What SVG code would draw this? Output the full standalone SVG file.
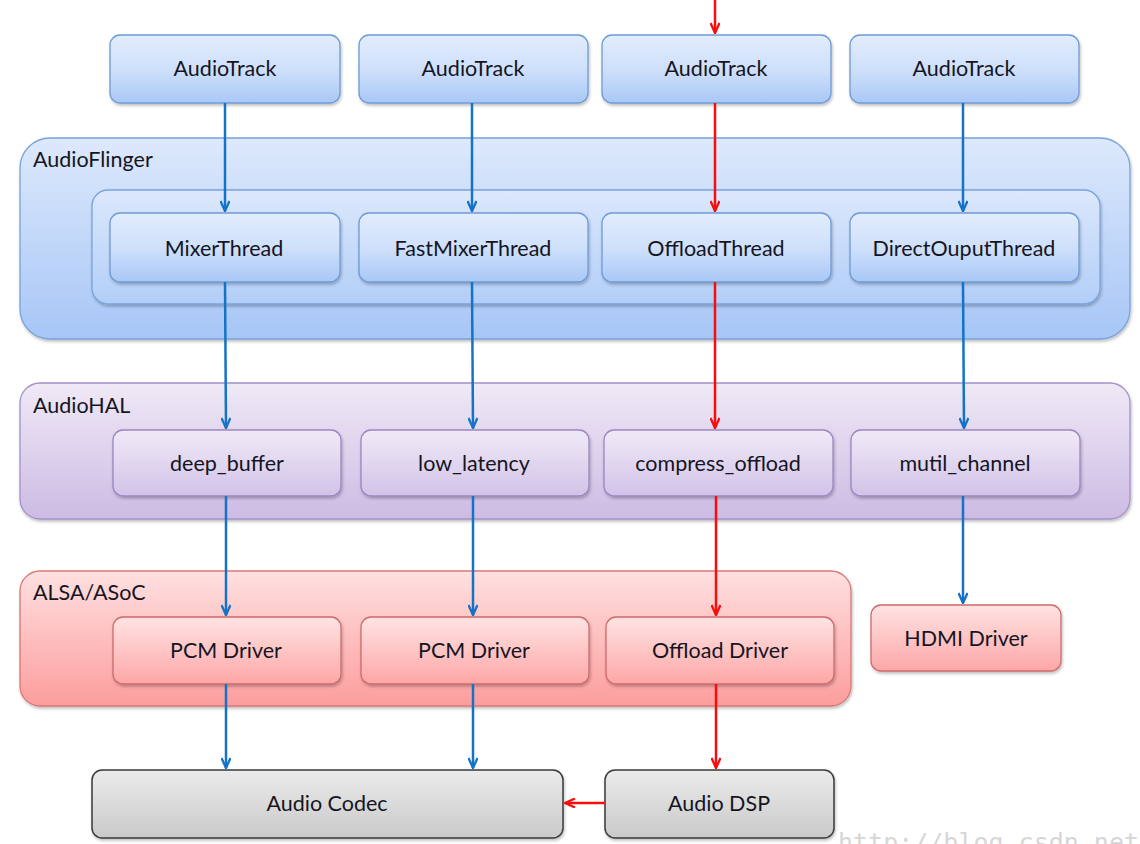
<svg xmlns="http://www.w3.org/2000/svg" width="1140" height="844" viewBox="0 0 1140 844">
<style>
text{font-family:Lato,"Open Sans","Liberation Sans",sans-serif;font-size:21.5px;fill:#15151f;}
.c{text-anchor:middle;}
.blue{fill:url(#gBlue);stroke:#6e9ad6;stroke-width:1.3;}
.bigblue{fill:url(#gBigBlue);stroke:#7aa3da;stroke-width:1.3;}
.inner{fill:url(#gInner);stroke:#7aa3da;stroke-width:1.3;}
.purple{fill:url(#gPurple);stroke:#9a86c2;stroke-width:1.3;}
.bigpurple{fill:url(#gBigPurple);stroke:#a391c8;stroke-width:1.3;}
.red{fill:url(#gRed);stroke:#cf6a6a;stroke-width:1.3;}
.bigred{fill:url(#gBigRed);stroke:#d97878;stroke-width:1.3;}
.gray{fill:url(#gGray);stroke:#3a3a3a;stroke-width:1.5;}
.sh{filter:url(#shadow);}
.lb{stroke:#1473c6;stroke-width:2.5;fill:none;marker-end:url(#aBlue);}
.lr{stroke:#fb0c0c;stroke-width:2.5;fill:none;marker-end:url(#aRed);}
.wm{font-family:"DejaVu Sans Mono","Liberation Mono",monospace;font-size:25px;fill:#d6d6d6;}
</style>
<defs>
<linearGradient id="gBlue" x1="0" y1="0" x2="0" y2="1"><stop offset="0" stop-color="#e2edfd"/><stop offset="0.5" stop-color="#cfe0fb"/><stop offset="1" stop-color="#a9c8f6"/></linearGradient>
<linearGradient id="gBigBlue" x1="0" y1="0" x2="0" y2="1"><stop offset="0" stop-color="#dde9fc"/><stop offset="1" stop-color="#a7c6f6"/></linearGradient>
<linearGradient id="gInner" x1="0" y1="0" x2="0" y2="1"><stop offset="0" stop-color="#dce8fc"/><stop offset="1" stop-color="#b2cef8"/></linearGradient>
<linearGradient id="gPurple" x1="0" y1="0" x2="0" y2="1"><stop offset="0" stop-color="#f0eaf7"/><stop offset="1" stop-color="#d2c2e8"/></linearGradient>
<linearGradient id="gBigPurple" x1="0" y1="0" x2="0" y2="1"><stop offset="0" stop-color="#efe9f6"/><stop offset="1" stop-color="#cdbbe4"/></linearGradient>
<linearGradient id="gRed" x1="0" y1="0" x2="0" y2="1"><stop offset="0" stop-color="#ffe3e3"/><stop offset="1" stop-color="#fda7a7"/></linearGradient>
<linearGradient id="gBigRed" x1="0" y1="0" x2="0" y2="1"><stop offset="0" stop-color="#ffe0e0"/><stop offset="1" stop-color="#fc9d9d"/></linearGradient>
<linearGradient id="gGray" x1="0" y1="0" x2="0" y2="1"><stop offset="0" stop-color="#ebebeb"/><stop offset="1" stop-color="#c9c9c9"/></linearGradient>
<filter id="shadow" x="-5%" y="-10%" width="110%" height="130%"><feDropShadow dx="1" dy="2" stdDeviation="1.5" flood-color="#000" flood-opacity="0.25"/></filter>
<marker id="aBlue" viewBox="0 0 12 10" refX="11" refY="5" markerWidth="12" markerHeight="10" markerUnits="userSpaceOnUse" orient="auto"><path d="M1,0.5 L11,5 L1,9.5" fill="none" stroke="#1473c6" stroke-width="2.3"/></marker>
<marker id="aRed" viewBox="0 0 12 10" refX="11" refY="5" markerWidth="12" markerHeight="10" markerUnits="userSpaceOnUse" orient="auto"><path d="M1,0.5 L11,5 L1,9.5" fill="none" stroke="#fb0c0c" stroke-width="2.3"/></marker>
</defs>
<rect width="1140" height="844" fill="#ffffff"/>

<g id="audioflinger">
<rect class="bigblue sh" x="20" y="138" width="1110" height="201" rx="30"/>
<text x="33" y="167">AudioFlinger</text>
<rect class="inner sh" x="92" y="190" width="1008" height="114" rx="16"/>
</g>
<g id="audiohal">
<rect class="bigpurple sh" x="20" y="383" width="1110" height="136" rx="20"/>
<text x="33" y="413">AudioHAL</text>
</g>
<g id="alsa">
<rect class="bigred sh" x="20" y="571" width="831" height="135" rx="20"/>
<text x="33" y="600">ALSA/ASoC</text>
</g>

<g id="audiotrack1"><rect class="blue sh" x="110" y="35" width="230" height="68" rx="10"/><text class="c" x="225" y="76">AudioTrack</text></g>
<g id="audiotrack2"><rect class="blue sh" x="359" y="35" width="229" height="68" rx="10"/><text class="c" x="473" y="76">AudioTrack</text></g>
<g id="audiotrack3"><rect class="blue sh" x="602" y="35" width="229" height="68" rx="10"/><text class="c" x="716" y="76">AudioTrack</text></g>
<g id="audiotrack4"><rect class="blue sh" x="850" y="35" width="229" height="68" rx="10"/><text class="c" x="964" y="76">AudioTrack</text></g>

<g id="mixerthread"><rect class="blue sh" x="110" y="213" width="230" height="69" rx="10"/><text class="c" x="224" y="256">MixerThread</text></g>
<g id="fastmixerthread"><rect class="blue sh" x="359" y="213" width="229" height="69" rx="10"/><text class="c" x="473" y="256">FastMixerThread</text></g>
<g id="offloadthread"><rect class="blue sh" x="602" y="213" width="229" height="69" rx="10"/><text class="c" x="716" y="256">OffloadThread</text></g>
<g id="directouputthread"><rect class="blue sh" x="850" y="213" width="229" height="69" rx="10"/><text class="c" x="964" y="256">DirectOuputThread</text></g>

<g id="deep_buffer"><rect class="purple sh" x="113" y="430" width="228" height="66" rx="10"/><text class="c" x="227" y="471">deep_buffer</text></g>
<g id="low_latency"><rect class="purple sh" x="361" y="430" width="228" height="66" rx="10"/><text class="c" x="474" y="471">low_latency</text></g>
<g id="compress_offload"><rect class="purple sh" x="604" y="430" width="229" height="66" rx="10"/><text class="c" x="718" y="471">compress_offload</text></g>
<g id="mutil_channel"><rect class="purple sh" x="851" y="430" width="229" height="66" rx="10"/><text class="c" x="965" y="471">mutil_channel</text></g>

<g id="pcm1"><rect class="red sh" x="113" y="617" width="228" height="67" rx="10"/><text class="c" x="226" y="658">PCM Driver</text></g>
<g id="pcm2"><rect class="red sh" x="361" y="617" width="228" height="67" rx="10"/><text class="c" x="474" y="658">PCM Driver</text></g>
<g id="offloaddriver"><rect class="red sh" x="606" y="617" width="228" height="67" rx="10"/><text class="c" x="720" y="658">Offload Driver</text></g>
<g id="hdmidriver"><rect class="red sh" x="871" y="605" width="190" height="66" rx="10"/><text class="c" x="966" y="646">HDMI Driver</text></g>

<g id="audiocodec"><rect class="gray sh" x="92" y="770" width="471" height="68" rx="10"/><text class="c" x="327" y="811">Audio Codec</text></g>
<g id="audiodsp"><rect class="gray sh" x="605" y="770" width="229" height="68" rx="10"/><text class="c" x="719" y="811">Audio DSP</text></g>

<g id="connectors">
<line class="lr" x1="715" y1="0" x2="715" y2="33"/>
<line class="lb" x1="225" y1="103" x2="225" y2="211"/>
<line class="lb" x1="472" y1="103" x2="472" y2="211"/>
<line class="lr" x1="715" y1="103" x2="715" y2="211"/>
<line class="lb" x1="963" y1="103" x2="963" y2="211"/>
<line class="lb" x1="225" y1="282" x2="226" y2="428"/>
<line class="lb" x1="472" y1="282" x2="473" y2="428"/>
<line class="lr" x1="715" y1="282" x2="715" y2="428"/>
<line class="lb" x1="963" y1="282" x2="964" y2="428"/>
<line class="lb" x1="226" y1="496" x2="226" y2="615"/>
<line class="lb" x1="473" y1="496" x2="473" y2="615"/>
<line class="lr" x1="716" y1="496" x2="716" y2="615"/>
<line class="lb" x1="963" y1="496" x2="963" y2="603"/>
<line class="lb" x1="226" y1="684" x2="226" y2="768"/>
<line class="lb" x1="473" y1="684" x2="473" y2="768"/>
<line class="lr" x1="716" y1="684" x2="716" y2="768"/>
<line class="lr" x1="605" y1="803" x2="565" y2="803"/>
</g>

<text class="wm" x="838" y="851">http://blog.csdn.net</text>
</svg>
